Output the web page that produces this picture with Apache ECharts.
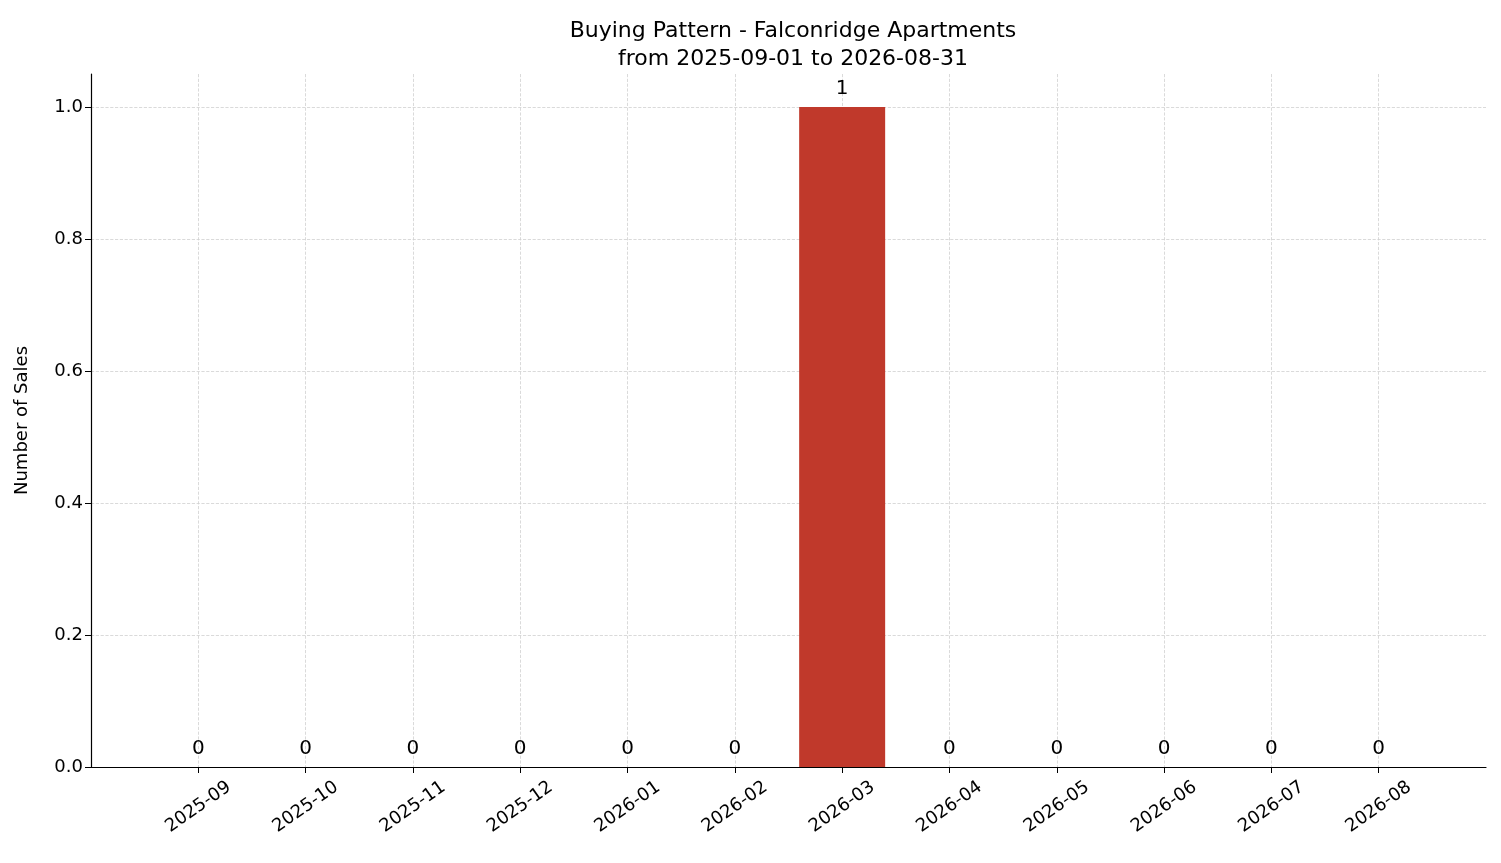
<!DOCTYPE html>
<html><head><meta charset="utf-8">
<script src="https://cdn.jsdelivr.net/npm/echarts@6/dist/echarts.min.js"></script>
<style>html,body{margin:0;padding:0;background:#fff}#c{width:1501px;height:863px}</style>
</head><body><div id="c"></div>
<script>
const months = ['2025-09','2025-10','2025-11','2025-12','2026-01','2026-02','2026-03','2026-04','2026-05','2026-06','2026-07','2026-08'];
const sales = [0,0,0,0,0,0,1,0,0,0,0,0];
const yTicks = [0,0.2,0.4,0.6,0.8,1.0];

const cats = [''].concat(months, ['']);
const vals = [null].concat(sales, [null]);
const font = 'DejaVu Sans';
const chart = echarts.init(document.getElementById('c'));
chart.setOption({
  animation:false,
  title:{text:'Buying Pattern - Falconridge Apartments\nfrom 2025-09-01 to 2026-08-31',left:788,textAlign:'center',top:12,
    textStyle:{fontFamily:font,fontWeight:'normal',fontSize:22,color:'#000',lineHeight:28}},
  grid:{left:91,right:15,top:74,bottom:96,containLabel:false},
  xAxis:{type:'category',data:cats,boundaryGap:false,
    axisLine:{lineStyle:{color:'#000',width:1.2}},
    axisTick:{interval:(i,v)=>v!=='',length:6,lineStyle:{color:'#000'}},
    axisLabel:{interval:0,rotate:35,align:'center',verticalAlign:'middle',fontFamily:font,fontSize:18,color:'#000',margin:40},
    splitLine:{show:true,interval:(i,v)=>v!=='',lineStyle:{color:'#d0d0d0',type:'dashed',width:0.8}}},
  yAxis:{type:'value',min:0,max:1.05,interval:0.2,name:'Number of Sales',nameLocation:'middle',nameGap:60,
    nameTextStyle:{fontFamily:font,fontSize:18,color:'#000'},
    axisLine:{show:true,lineStyle:{color:'#000',width:1.2}},
    axisTick:{show:true,length:6,lineStyle:{color:'#000'}},
    axisLabel:{fontFamily:font,fontSize:18,color:'#000',showMaxLabel:false,
      formatter:v=>yTicks.some(t=>Math.abs(t-v)<1e-9)?v.toFixed(1):''},
    splitLine:{show:true,showMaxLine:false,lineStyle:{color:'#d0d0d0',type:'dashed',width:0.8}}},
  series:[{type:'bar',data:vals,barWidth:86,itemStyle:{color:'#c0392b'},
    label:{show:true,position:'top',distance:8,fontFamily:font,fontSize:20,color:'#000'}}]
});
</script></body></html>
